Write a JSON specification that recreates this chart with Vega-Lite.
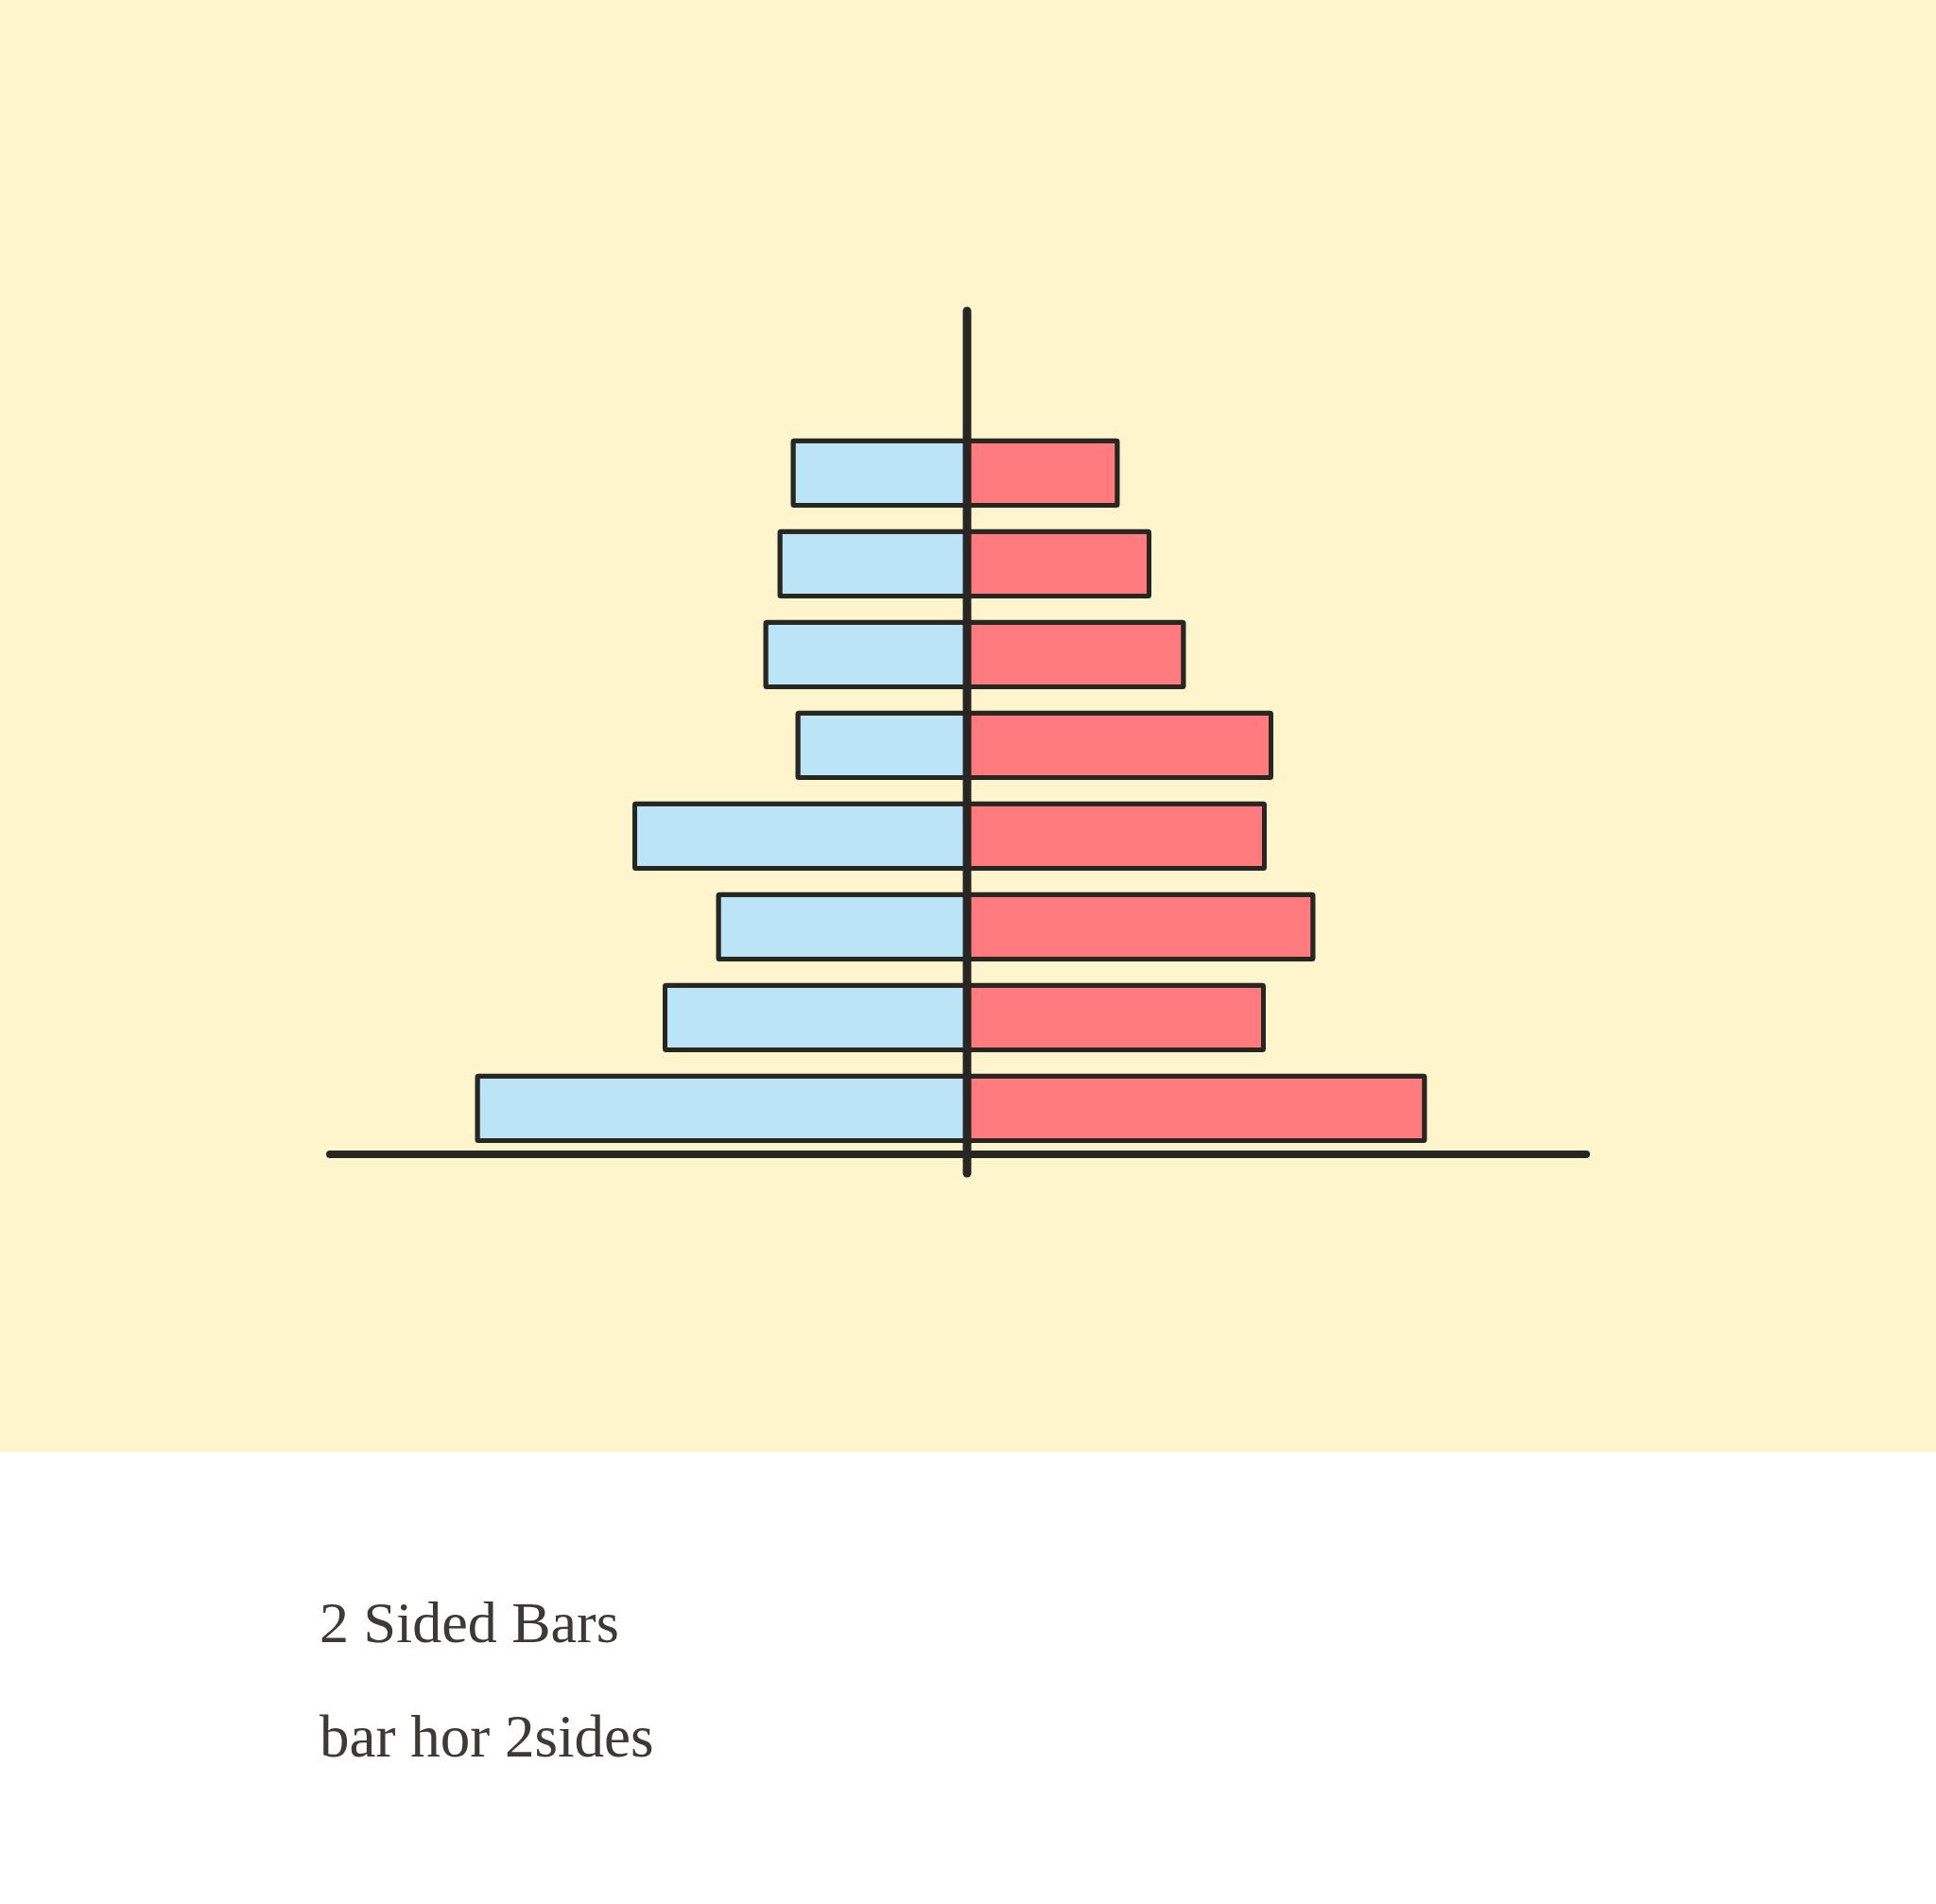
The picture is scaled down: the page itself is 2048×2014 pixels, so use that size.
{
  "$schema": "https://vega.github.io/schema/vega-lite/v6.json",
  "width": 2048,
  "height": 1536,
  "padding": 0,
  "autosize": {"type": "pad"},
  "background": "#ffffff",
  "config": {"view": {"fill": "#FFF5CD", "stroke": null}},
  "title": {
    "text": "2 Sided Bars",
    "subtitle": "bar hor 2sides",
    "orient": "bottom",
    "anchor": "start",
    "dx": 338,
    "offset": 152,
    "baseline": "top",
    "font": "Liberation Serif",
    "fontSize": 62,
    "fontWeight": "normal",
    "color": "#3D3935",
    "subtitleFont": "Liberation Serif",
    "subtitleFontSize": 63,
    "subtitleFontWeight": "normal",
    "subtitleColor": "#3D3935",
    "subtitlePadding": 58
  },
  "datasets": {
    "bars": [
      {"group": "1", "side": "left", "value": -36.8},
      {"group": "2", "side": "left", "value": -39.6},
      {"group": "3", "side": "left", "value": -42.6},
      {"group": "4", "side": "left", "value": -35.8},
      {"group": "5", "side": "left", "value": -70.3},
      {"group": "6", "side": "left", "value": -52.6},
      {"group": "7", "side": "left", "value": -63.9},
      {"group": "8", "side": "left", "value": -103.6},
      {"group": "1", "side": "right", "value": 31.8},
      {"group": "2", "side": "right", "value": 38.5},
      {"group": "3", "side": "right", "value": 45.8},
      {"group": "4", "side": "right", "value": 64.3},
      {"group": "5", "side": "right", "value": 62.9},
      {"group": "6", "side": "right", "value": 73.2},
      {"group": "7", "side": "right", "value": 62.7},
      {"group": "8", "side": "right", "value": 96.8}
    ]
  },
  "layer": [
    {
      "data": {"name": "bars"},
      "mark": {"type": "bar", "stroke": "#272622", "strokeWidth": 5, "strokeJoin": "round", "cornerRadius": 1},
      "encoding": {
        "x": {"field": "value", "type": "quantitative", "axis": null,
              "scale": {"domain": [-204.6, 205], "nice": false, "zero": false}},
        "y": {"field": "group", "type": "ordinal", "axis": null,
              "scale": {"domain": ["1","2","3","4","5","6","7","8"], "range": [452.3, 1220.3], "paddingInner": 0.29, "paddingOuter": 0.145}},
        "color": {"field": "side", "type": "nominal", "legend": null,
                  "scale": {"domain": ["left", "right"], "range": ["#BBE5F7", "#FF7B7D"]}}
      }
    },
    {
      "data": {"values": [{}]},
      "layer": [
        {
          "mark": {"type": "rule", "color": "#272622", "strokeWidth": 8, "strokeCap": "round"},
          "encoding": {
            "x": {"datum": -134.8, "type": "quantitative", "axis": null},
            "x2": {"datum": 131},
            "y": {"datum": 0, "type": "quantitative", "axis": null,
                  "scale": {"domain": [-63, 244.2], "nice": false, "zero": false}}
          }
        },
        {
          "mark": {"type": "rule", "color": "#272622", "strokeWidth": 9, "strokeCap": "round"},
          "encoding": {
            "x": {"datum": 0, "type": "quantitative", "axis": null},
            "y": {"datum": -4, "type": "quantitative", "axis": null},
            "y2": {"datum": 178.4}
          }
        }
      ]
    }
  ],
  "resolve": {"scale": {"y": "independent"}}
}
